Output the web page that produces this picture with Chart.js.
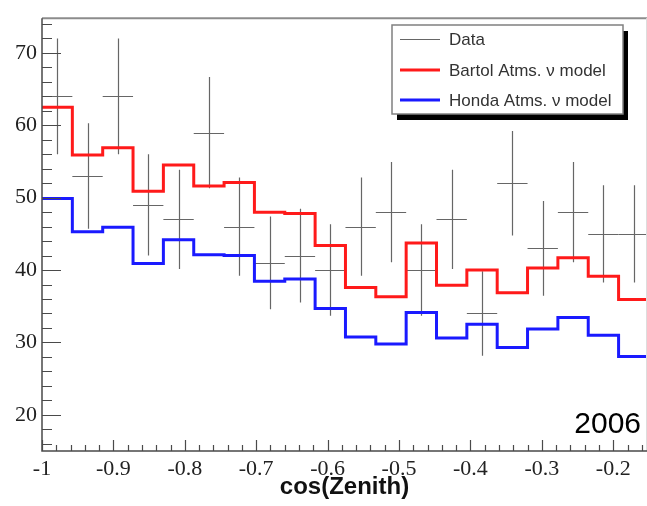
<!DOCTYPE html>
<html>
<head>
<meta charset="utf-8">
<script src="https://cdn.jsdelivr.net/npm/chart.js@4.4.0/dist/chart.umd.min.js"></script>
<style>
  html, body { margin: 0; padding: 0; background: #fff; }
  #wrap { width: 647px; height: 506px; }
</style>
</head>
<body>
<div id="wrap"><canvas id="zenithChart" width="647" height="506"></canvas></div>
<script>
// zenith angle distribution: observed counts vs two atmospheric neutrino models

"use strict";

// cos(zenith) bin edges, 20 bins
const binEdges = [-1, -0.9575, -0.915, -0.8725, -0.83, -0.7875, -0.745, -0.7025, -0.66, -0.6175,
                  -0.575, -0.5325, -0.49, -0.4475, -0.405, -0.3625, -0.32, -0.2775, -0.235, -0.1925, -0.15];

// observed events per bin
const dataCounts = [64, 53, 64, 49, 47, 59, 46, 41, 42, 40, 46, 48, 40, 47, 34, 52, 43, 48, 45, 45];

// model expectations per bin
const bartolModel = [62.5, 55.9, 56.9, 50.9, 54.5, 51.6, 52.1, 48.0, 47.8, 43.4,
                     37.6, 36.3, 43.75, 37.9, 40.0, 36.85, 40.3, 41.7, 39.15, 35.95];
const hondaModel = [49.9, 45.3, 45.9, 40.9, 44.2, 42.1, 42.0, 38.45, 38.75, 34.7,
                    30.75, 29.8, 34.15, 30.6, 32.5, 29.3, 31.85, 33.45, 31.0, 28.05];

const seriesNames = ["Data", "Bartol Atms. \u03bd model", "Honda Atms. \u03bd model"];
const seriesColors = ["#666666", "#ff1a1a", "#1a1aff"];

const xTickValues = [-1, -0.9, -0.8, -0.7, -0.6, -0.5, -0.4, -0.3, -0.2];
const yTickValues = [20, 30, 40, 50, 60, 70];
const yearLabel = "2006";

// step outline: each bin value held from its left edge to the next edge
let stepPoints = function (values) {
  return binEdges.map((e, i) => ({x: e, y: values[Math.min(i, values.length - 1)]}));
};

let binCenters = dataCounts.map((n, i) => ({x: (binEdges[i] + binEdges[i + 1]) / 2, y: n}));

// error crosses (sqrt(N)), inward ticks, frame, legend and year label
const decorations =
  {
  id: "decorations",
  beforeDatasetsDraw(chart) {
    const ctx = chart.ctx;
    const xs = chart.scales.x, ys = chart.scales.y;
    ctx.save();
    ctx.strokeStyle = seriesColors[0];
    ctx.lineWidth = 1.2;
    dataCounts.forEach((n, i) => {
      const err = Math.sqrt(n);
      const cx = Math.round(xs.getPixelForValue(binCenters[i].x)) + 0.5;
      const cy = Math.round(ys.getPixelForValue(n)) + 0.5;
      ctx.beginPath();
      ctx.moveTo(cx, ys.getPixelForValue(n + err));
      ctx.lineTo(cx, ys.getPixelForValue(n - err));
      ctx.moveTo(xs.getPixelForValue(binEdges[i]), cy);
      ctx.lineTo(Math.min(xs.getPixelForValue(binEdges[i + 1]), chart.chartArea.right), cy);
      ctx.stroke();
    });
    ctx.restore();
  },
  afterDraw(chart) {
    const ctx = chart.ctx;
    const area = chart.chartArea;
    const xs = chart.scales.x, ys = chart.scales.y;
    ctx.save();

    // top and right frame
    ctx.strokeStyle = "#8c8c8c";
    ctx.lineWidth = 2;
    ctx.beginPath();
    ctx.moveTo(area.left, area.top);
    ctx.lineTo(area.right, area.top);
    ctx.stroke();
    ctx.strokeStyle = "#dddddd";
    ctx.lineWidth = 1;
    ctx.beginPath();
    ctx.moveTo(area.right - 0.5, area.top);
    ctx.lineTo(area.right - 0.5, area.bottom);
    ctx.stroke();

    // axis lines
    ctx.strokeStyle = "#4a4a4a";
    ctx.lineWidth = 1.5;
    ctx.beginPath();
    ctx.moveTo(area.left, area.top);
    ctx.lineTo(area.left, area.bottom);
    ctx.lineTo(area.right, area.bottom);
    ctx.stroke();

    // y ticks: minor every 2, major every 10
    ctx.lineWidth = 1.2;
    ctx.beginPath();
    for (let v = 16; v <= 74; v += 2) {
      const py = Math.round(ys.getPixelForValue(v)) + 0.5;
      const len = (v % 10 === 0) ? 19 : 10;
      ctx.moveTo(area.left, py);
      ctx.lineTo(area.left + len, py);
    }
    // x ticks: minor every 0.02, major every 0.1
    for (let k = 0; k <= 42; k++) {
      const v = -1 + k * 0.02;
      const px = Math.round(xs.getPixelForValue(v)) + 0.5;
      if (px > area.right) break;
      const len = (k % 5 === 0) ? 11 : 6;
      ctx.moveTo(px, area.bottom);
      ctx.lineTo(px, area.bottom - len);
    }
    ctx.stroke();

    // legend box with drop shadow
    const lx = 392, ly = 25, lw = 231, lh = 89;
    ctx.fillStyle = "#000";
    ctx.fillRect(lx + 5, ly + 6, lw, lh);
    ctx.fillStyle = "#fff";
    ctx.fillRect(lx, ly, lw, lh);
    ctx.strokeStyle = "#808080";
    ctx.lineWidth = 1.5;
    ctx.strokeRect(lx, ly, lw, lh);

    const rows = [39.5, 70, 100];
    const widths = [1.2, 3, 3];
    ctx.font = "17px 'Liberation Sans', Arial, sans-serif";
    ctx.textBaseline = "middle";
    ctx.textAlign = "left";
    seriesNames.forEach((name, i) => {
      ctx.strokeStyle = seriesColors[i];
      ctx.lineWidth = widths[i];
      ctx.beginPath();
      ctx.moveTo(400, rows[i]);
      ctx.lineTo(440, rows[i]);
      ctx.stroke();
      ctx.fillStyle = "#333";
      ctx.fillText(name, 449, rows[i] + 1);
    });

    // year
    ctx.fillStyle = "#000";
    ctx.font = "30px 'Liberation Sans', Arial, sans-serif";
    ctx.textAlign = "right";
    ctx.textBaseline = "alphabetic";
    ctx.fillText(yearLabel, 641, 433);

    ctx.restore();
  }
};

const ctx = document.getElementById("zenithChart").getContext("2d");

const config =
  {
  type: "line",
  data:
    {
    datasets:
      [
      {
        label: seriesNames[0],
        data: binCenters,
        showLine: false,
        pointRadius: 0,
        borderColor: seriesColors[0]
      },
      {
        label: seriesNames[1],
        data: stepPoints(bartolModel),
        stepped: "before",
        borderColor: seriesColors[1],
        borderWidth: 3,
        pointRadius: 0,
        fill: false
      },
      {
        label: seriesNames[2],
        data: stepPoints(hondaModel),
        stepped: "before",
        borderColor: seriesColors[2],
        borderWidth: 3,
        pointRadius: 0,
        fill: false
      }
    ]
  },
  options:
    {
    responsive: false,
    animation: false,
    devicePixelRatio: 1,
    layout: {padding: {top: 13, right: 0, left: 0, bottom: 0}},
    plugins: {legend: {display: false}, tooltip: {enabled: false}},
    scales:
      {
      x:
        {
        type: "linear",
        min: -1,
        max: -0.1527,
        grid: {display: false, drawTicks: false},
        border: {display: false},
        afterBuildTicks: (scale) => { scale.ticks = xTickValues.map(v => ({value: v})); },
        afterFit: (scale) => { scale.height = 55; },
        ticks:
          {
          autoSkip: false,
          maxRotation: 0,
          padding: 5,
          color: "#222",
          font: {family: "'Liberation Serif', 'Times New Roman', serif", size: 22},
          callback: (v) => String(v)
        },
        title:
          {
          display: true,
          text: "cos(Zenith)",
          color: "#111",
          padding: {top: 0, bottom: 4},
          font: {family: "'Liberation Sans', Arial, sans-serif", size: 24, weight: "bold"}
        }
      },
      y:
        {
        type: "linear",
        min: 15,
        max: 74.8,
        grid: {display: false, drawTicks: false},
        border: {display: false},
        afterBuildTicks: (scale) => { scale.ticks = yTickValues.map(v => ({value: v})); },
        afterFit: (scale) => { scale.width = 42; },
        ticks:
          {
          autoSkip: false,
          padding: 5,
          color: "#222",
          font: {family: "'Liberation Serif', 'Times New Roman', serif", size: 22},
          callback: (v) => String(v)
        }
      }
    }
  },
  plugins: [decorations]
};

let zenithChart = new Chart(ctx, config);
</script>
</body>
</html>
